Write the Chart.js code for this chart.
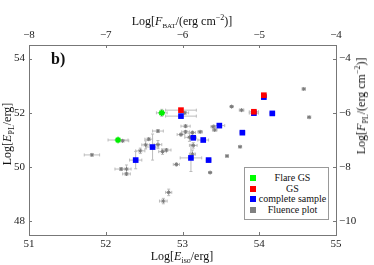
<!DOCTYPE html>
<html>
<head>
<meta charset="utf-8">
<script src="https://cdn.jsdelivr.net/npm/chart.js@4.4.1/dist/chart.umd.min.js"></script>
<style>
html, body { margin: 0; padding: 0; background: #fff; }
#wrap { position: relative; width: 374px; height: 265px; font-family: 'Liberation Serif', 'Times New Roman', serif; color: #111; }
#wrap canvas { position: absolute; left: 0; top: 0; }
.t { position: absolute; white-space: nowrap; font-size: 12px; line-height: 1; transform: translate(-50%, -50%); }
.t.rot { transform: translate(-50%, -50%) rotate(-90deg); }
.t i { font-style: italic; }
.t sub { font-size: 8px; vertical-align: -3px; }
.t sup { font-size: 8px; vertical-align: 5px; }
.t sub.sc { font-size: 7px; }
#tag { position: absolute; left: 51px; top: 50px; font-weight: bold; font-size: 16px; }
#legend { position: absolute; left: 244px; top: 167px; width: 83px; height: 51px; border: 1px solid #999; background: #fff; font-size: 10px; }
#legend div { position: absolute; left: 0; width: 83px; height: 10px; line-height: 10px; }
#legend span.m { position: absolute; left: 5px; top: 2px; width: 6px; height: 6px; }
#legend span.l { position: absolute; left: 12px; right: 0; text-align: center; }
</style>
</head>
<body>
<div id="wrap">
  <canvas id="c" width="374" height="265"></canvas>
  <div class="t" style="left:182px;top:22px">Log[<i>F</i><sub class="sc">BAT</sub>/(erg cm<sup>&minus;2</sup>)]</div>
  <div class="t" style="left:182px;top:257px">Log[<i>E</i><sub>iso</sub>/erg]</div>
  <div class="t rot" style="left:8px;top:134px">Log[<i>E</i><sub>PL</sub>/erg]</div>
  <div class="t rot" style="left:362px;top:106px">Log[<i>F</i><sub>PL</sub>/(erg cm<sup>&minus;2</sup>)]</div>
  <div id="tag">b)</div>
  <div id="legend"></div>
</div>
<script>
// axis ticks
const xTicks = [51, 52, 53, 54, 55];
const x2Ticks = [-8, -7, -6, -5, -4];
const yTicks = [48, 50, 52, 54];
const y2Ticks = [-10, -8, -6, -4];

// Flare GS
const flareX = [52.16, 52.73];
const flareY = [51.00, 52.00];
const flareXErr = [0.13, 0.07];
const flareYErr = [0.05, 0.13];

// GS
const gsX = [52.98, 54.06, 53.93];
const gsY = [52.10, 52.65, 52.04];
const gsXErr = [0.20, 0.03, 0.06];
const gsYErr = [0.05, 0.03, 0.05];

// complete sample
const compX = [52.98, 54.06, 53.93, 54.17, 53.78, 53.48, 53.14, 53.27, 52.61, 53.11, 53.34, 52.39];
const compY = [51.88, 52.58, 51.99, 51.98, 51.27, 51.53, 51.08, 51.00, 50.74, 50.34, 50.26, 50.26];
const compXErr = [0.20, 0.03, 0.06, 0.03, 0.03, 0.07, 0.04, 0.07, 0.08, 0.14, 0.03, 0.08];
const compYErr = [0.05, 0.03, 0.05, 0.03, 0.03, 0.05, 0.05, 0.04, 0.48, 0.50, 0.03, 0.32];

// Fluence plot
const fluX = [51.82, 52.20, 52.27, 52.27, 52.22, 52.45, 52.52, 52.56, 52.68, 52.68, 52.74,
              52.79, 52.92, 52.82, 52.75, 53.03, 53.04, 53.04, 52.98, 53.13, 53.23, 53.09,
              53.40, 53.42, 53.14, 53.13, 53.64, 53.77, 53.75, 53.58, 54.58, 54.65, 53.36];
const fluY = [50.45, 49.93, 49.93, 49.75, 50.97, 50.60, 50.82, 51.03, 51.33, 50.83, 50.57,
              50.63, 50.10, 49.07, 48.75, 52.00, 51.51, 51.30, 51.20, 51.27, 51.30, 51.10,
              51.49, 51.37, 50.80, 50.48, 52.23, 52.10, 50.75, 50.41, 52.88, 51.84, 49.80];
const fluXErr = [0.10, 0.08, 0.06, 0.05, 0.08, 0.06, 0.05, 0.05, 0.07, 0.05, 0.05,
                 0.06, 0.04, 0.04, 0.05, 0.05, 0.06, 0.05, 0.05, 0.04, 0.03, 0.06,
                 0.03, 0.03, 0.05, 0.04, 0.02, 0.03, 0.02, 0.02, 0.02, 0.02, 0.02];
const fluYErr = [0.04, 0.05, 0.15, 0.05, 0.04, 0.10, 0.15, 0.05, 0.05, 0.15, 0.10,
                 0.05, 0.05, 0.12, 0.10, 0.05, 0.05, 0.05, 0.05, 0.05, 0.04, 0.15,
                 0.04, 0.04, 0.10, 0.15, 0.03, 0.03, 0.03, 0.03, 0.03, 0.03, 0.03];

const FONT = { family: "'Liberation Serif', 'Times New Roman', serif", size: 11 };
const AXIS = '#777';

function pts(xs, ys) { return xs.map((x, i) => ({ x, y: ys[i] })); }
function fmt(v) { return v < 0 ? '\u2212' + Math.abs(v) : String(v); }
function fixTicks(list) { return s => { s.ticks = list.map(v => ({ value: v })); }; }

const errorBars = {
    id: 'errorBars',
    beforeDatasetsDraw(chart) {
        const { ctx, scales: { x, y } } = chart;
        ctx.save();
        ctx.strokeStyle = '#bcbcbc';
        ctx.lineWidth = 1;
        ctx.beginPath();
        chart.data.datasets.forEach(ds => {
            ds.data.forEach((p, i) => {
                const px = x.getPixelForValue(p.x), py = y.getPixelForValue(p.y);
                const xl = x.getPixelForValue(p.x - ds.xErr[i]), xr = x.getPixelForValue(p.x + ds.xErr[i]);
                const yt = y.getPixelForValue(p.y + ds.yErr[i]), yb = y.getPixelForValue(p.y - ds.yErr[i]);
                ctx.moveTo(xl, py); ctx.lineTo(xr, py);
                ctx.moveTo(xl, py - 1.5); ctx.lineTo(xl, py + 1.5);
                ctx.moveTo(xr, py - 1.5); ctx.lineTo(xr, py + 1.5);
                ctx.moveTo(px, yt); ctx.lineTo(px, yb);
                ctx.moveTo(px - 1.5, yt); ctx.lineTo(px + 1.5, yt);
                ctx.moveTo(px - 1.5, yb); ctx.lineTo(px + 1.5, yb);
            });
        });
        ctx.stroke();
        ctx.restore();
    }
};

// short tick marks pointing into the box
const innerTicks = {
    id: 'innerTicks',
    afterDraw(chart) {
        const { ctx, chartArea: a, scales } = chart;
        const L = 3;
        ctx.save();
        ctx.strokeStyle = AXIS;
        ctx.lineWidth = 1;
        ctx.beginPath();
        scales.x.ticks.forEach(t => { const p = Math.round(scales.x.getPixelForValue(t.value)) + 0.5; ctx.moveTo(p, a.bottom); ctx.lineTo(p, a.bottom - L); });
        scales.x2.ticks.forEach(t => { const p = Math.round(scales.x2.getPixelForValue(t.value)) + 0.5; ctx.moveTo(p, a.top); ctx.lineTo(p, a.top + L); });
        scales.y.ticks.forEach(t => { const p = Math.round(scales.y.getPixelForValue(t.value)) + 0.5; ctx.moveTo(a.left, p); ctx.lineTo(a.left + L, p); });
        scales.y2.ticks.forEach(t => { const p = Math.round(scales.y2.getPixelForValue(t.value)) + 0.5; ctx.moveTo(a.right, p); ctx.lineTo(a.right - L, p); });
        ctx.stroke();
        ctx.restore();
    }
};

const datasets = [
    { label: 'Flare GS', data: pts(flareX, flareY), xErr: flareXErr, yErr: flareYErr,
      pointStyle: 'star', pointRadius: 3.2, borderWidth: 1.6, borderColor: '#00ee00', backgroundColor: '#00ff00' },
    { label: 'GS', data: pts(gsX, gsY), xErr: gsXErr, yErr: gsYErr,
      pointStyle: 'rect', pointRadius: 4, borderWidth: 0, backgroundColor: '#ff0000', borderColor: '#ff0000' },
    { label: 'complete sample', data: pts(compX, compY), xErr: compXErr, yErr: compYErr,
      pointStyle: 'rect', pointRadius: 4, borderWidth: 0, backgroundColor: '#0000ff', borderColor: '#0000ff' },
    { label: 'Fluence plot', data: pts(fluX, fluY), xErr: fluXErr, yErr: fluYErr,
      pointStyle: 'star', pointRadius: 2, borderWidth: 1, borderColor: '#7a7a7a', backgroundColor: '#7a7a7a' }
];

const legendColors = ['#00ff00', '#ff0000', '#0000ff', '#808080'];
const legendTops = [5, 15.5, 26, 36.5];
document.getElementById('legend').innerHTML = datasets.map((d, i) =>
    `<div style="top:${legendTops[i]}px"><span class="m" style="background:${legendColors[i]}"></span><span class="l">${d.label}</span></div>`).join('');

const tickOpts = { font: FONT, color: '#222', callback: fmt };
const noGrid = { display: false, drawTicks: false };

new Chart(document.getElementById('c'), {
    type: 'scatter',
    data: { datasets },
    options: {
        responsive: false,
        animation: false,
        devicePixelRatio: 1,
        layout: { padding: 0 },
        plugins: { legend: { display: false }, tooltip: { enabled: false } },
        scales: {
            x: { type: 'linear', position: 'bottom', min: 51, max: 55,
                 afterBuildTicks: fixTicks(xTicks), afterFit: s => { s.height = 30; },
                 grid: noGrid, border: { color: AXIS }, ticks: { ...tickOpts, padding: 3, maxRotation: 0 } },
            x2: { type: 'linear', position: 'top', min: -8, max: -4,
                 afterBuildTicks: fixTicks(x2Ticks), afterFit: s => { s.height = 45; },
                 grid: noGrid, border: { color: AXIS }, ticks: { ...tickOpts, padding: 3, maxRotation: 0 } },
            y: { type: 'linear', position: 'left', min: 47.5, max: 54.5,
                 afterBuildTicks: fixTicks(yTicks), afterFit: s => { s.width = 29; },
                 grid: noGrid, border: { color: AXIS }, ticks: { ...tickOpts, padding: 4 } },
            y2: { type: 'linear', position: 'right', min: -10.5, max: -3.5,
                 afterBuildTicks: fixTicks(y2Ticks), afterFit: s => { s.width = 38; },
                 grid: noGrid, border: { color: AXIS }, ticks: { ...tickOpts, padding: 3 } }
        }
    },
    plugins: [errorBars, innerTicks]
});
</script>
</body>
</html>
